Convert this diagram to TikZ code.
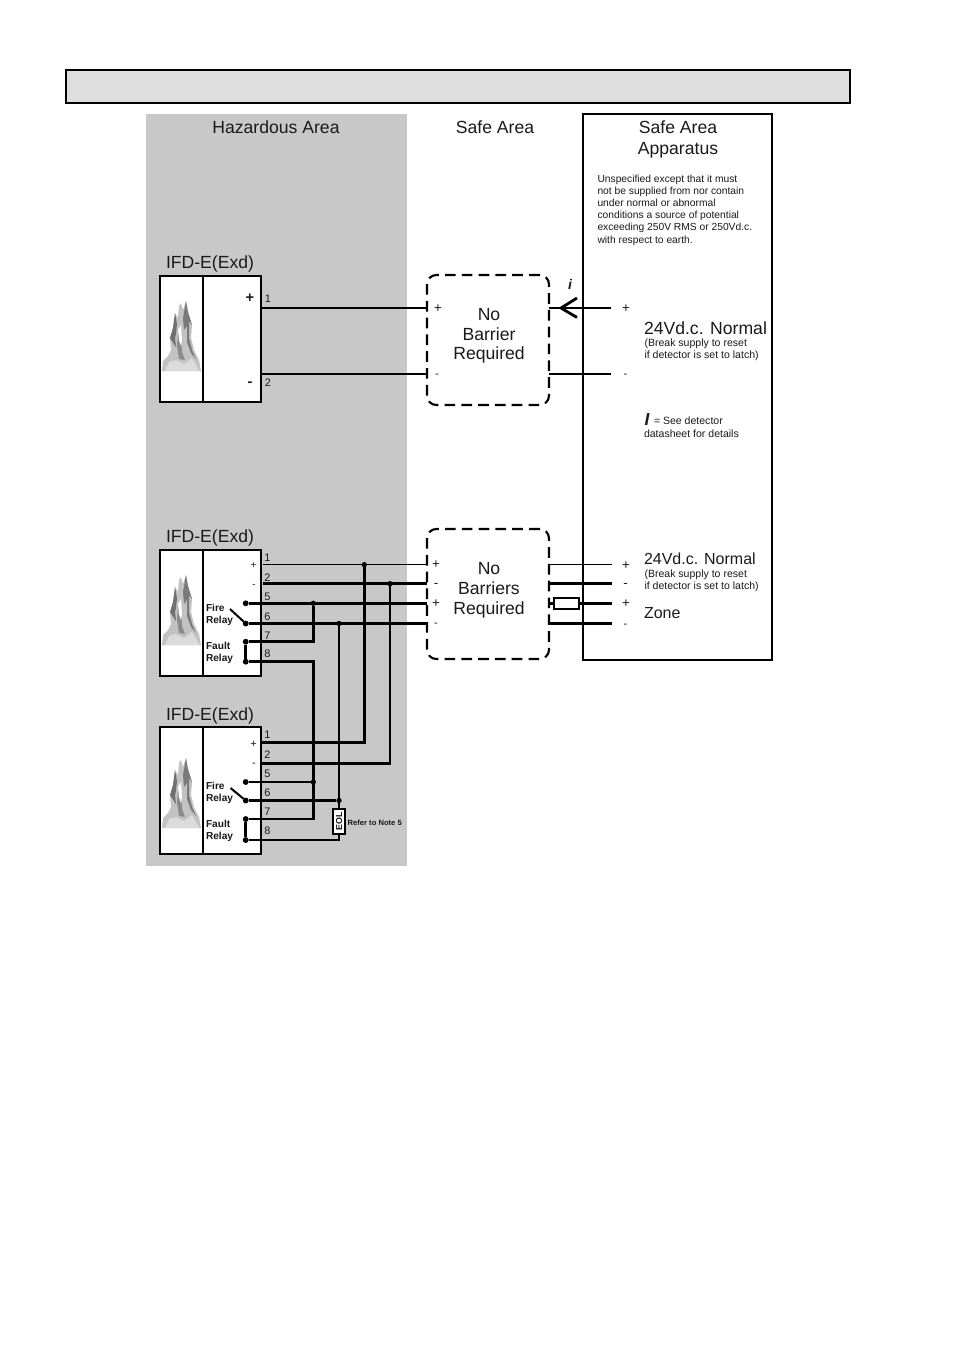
\documentclass[tikz,border=0pt]{standalone}
\usepackage{fontspec}
\setmainfont{Liberation Sans}
\newcommand{\fbig}{\fontsize{13.2}{14}\selectfont}
\newcommand{\fmid}{\fontsize{12}{13}\selectfont}
\newcommand{\fsmall}{\fontsize{7.9}{9}\selectfont}
\newcommand{\fnum}{\fontsize{8.2}{9}\selectfont}
\newcommand{\frel}{\fontsize{7.6}{9}\selectfont\bfseries}
\definecolor{hazgrey}{HTML}{C8C8C8}
\definecolor{headgrey}{HTML}{DEDEDE}
\definecolor{inkc}{HTML}{1A1A1A}
\tikzset{
  x=0.75pt,y=-0.75pt,
  every node/.style={outer sep=0pt},
  lab/.style={inner sep=0pt,text=inkc,yshift=-0.7pt,execute at begin node={\vphantom{(Ay}}},
  big/.style={lab,font=\fbig,yshift=-0.7pt},
  mid/.style={lab,font=\fmid,anchor=west},
  small/.style={lab,font=\fsmall,anchor=west},
  num/.style={lab,font=\fnum},
  rel/.style={lab,font=\frel,anchor=west},
  sign/.style={lab,font=\fnum},
  frame/.style={draw=black,line width=1.6pt},
  wire/.style={draw=black,line width=2.1pt},
  thinwire/.style={draw=black,line width=0.9pt},
  dashbox/.style={draw=black,line width=1.6pt,rounded corners=7pt,dash pattern=on 8pt off 4.6pt},
  dot/.style={circle,fill=black,inner sep=0pt,minimum size=4.4pt},
  jdot/.style={circle,fill=black,inner sep=0pt,minimum size=4pt},
}
\newcommand{\flameat}[2]{%
\begin{scope}[shift={(#1,#2)}]
\fill[black!24] (0,71) -- (1,61) -- (6,56) -- (9,50) -- (8,38) -- (11,28) -- (13,13) -- (16,18) -- (17,6) -- (19,3) -- (21,10) -- (24,1) -- (26,12) -- (30,25) -- (29,38) -- (32,50) -- (37,60) -- (39,71) -- cycle;
\fill[black!56] (8,38) -- (11,28) -- (13,13) -- (15,24) -- (14,34) -- (13,38) -- (14,47) -- (10,41) -- cycle;
\fill[black!46] (15,46) -- (16,32) -- (19,38) -- (20,52) -- (23,60) -- (17,59) -- cycle;
\fill[black!52] (24,1) -- (26,12) -- (30,25) -- (27,21) -- (27,38) -- (30,50) -- (34,59) -- (29,53) -- (25,42) -- (25,26) -- (22,30) -- (21,18) -- cycle;
\fill[white] (16,30) -- (19,25) -- (20,40) -- (19,46) -- (17,40) -- cycle;
\fill[black!14] (3,71) -- (7,62) -- (14,60) -- (22,64) -- (30,58) -- (37,70) -- (37,71) -- cycle;
\end{scope}}
\begin{document}
\begin{tikzpicture}
\useasboundingbox[fill=white] (0,0) rectangle (954,1350);
% header and areas
\node[draw=black,line width=0.8pt,fill=headgrey,minimum width=784*0.75pt,minimum height=33*0.75pt,inner sep=0pt,anchor=north west] (header) at (66,70) {};
\draw[black,line width=1.4pt] (header.north east) -- (header.south east);
\node[fill=hazgrey,minimum width=261*0.75pt,minimum height=752*0.75pt,inner sep=0pt,anchor=north west] (haz) at (146,114) {};
\node[frame,fill=white,minimum width=189*0.75pt,minimum height=546*0.75pt,inner sep=0pt,anchor=north west] (app) at (583,114) {};
\node[big] (thaz) at (276,127) {Hazardous Area};
\node[big] (tsafe) at (495,127) {Safe Area};
\node[big] (tapp1) at (678,127) {Safe Area};
\node[big] (tapp2) at (678,148) {Apparatus};
\foreach \n/\yy/\t in {a/179/Unspecified except that it must,b/190.5/not be supplied from nor contain,c/202.5/under normal or abnormal,d/214.5/conditions a source of potential,e/227/exceeding 250V RMS or 250Vd.c.,f/240/with respect to earth.}
  \node[small,font=\fontsize{7.7}{9}\selectfont] (un\n) at (597.5,\yy) {\t};
% detector boxes
\node[frame,fill=white,minimum width=101*0.75pt,minimum height=126*0.75pt,inner sep=0pt,anchor=north west] (d1) at (160,276) {};
\node[frame,fill=white,minimum width=101*0.75pt,minimum height=126*0.75pt,inner sep=0pt,anchor=north west] (d2) at (160,550) {};
\node[frame,fill=white,minimum width=101*0.75pt,minimum height=127*0.75pt,inner sep=0pt,anchor=north west] (d3) at (160,727) {};
\draw[black,line width=1.2pt] (d1.north west)++(43,0) -- ++(0,126);
\draw[black,line width=1.2pt] (d2.north west)++(43,0) -- ++(0,126);
\draw[black,line width=1.2pt] (d3.north west)++(43,0) -- ++(0,127);
\flameat{162}{300}
\flameat{162}{574}
\flameat{162}{757}
\node[big] (n1) at (210,262) {IFD-E(Exd)};
\node[big] (n2) at (210,536) {IFD-E(Exd)};
\node[big] (n3) at (210,714) {IFD-E(Exd)};
% barriers
\node[dashbox,minimum width=122*0.75pt,minimum height=130*0.75pt,inner sep=0pt,anchor=north west] (b1) at (427,275) {};
\node[dashbox,minimum width=122*0.75pt,minimum height=130*0.75pt,inner sep=0pt,anchor=north west] (b2) at (427,529) {};
\node[big] (b1a) at (489,314) {No};
\node[big] (b1b) at (489,334) {Barrier};
\node[big] (b1c) at (489,353) {Required};
\node[big] (b2a) at (489,568) {No};
\node[big] (b2b) at (489,588) {Barriers};
\node[big] (b2c) at (489,608) {Required};
% anchor points: left ends, barrier sides, apparatus ends
\foreach \n/\yy in {p/308,m/374}{
  \coordinate (d1\n) at (261,\yy); \coordinate (b1l\n) at (427,\yy);
  \coordinate (b1r\n) at (549,\yy); \coordinate (a1\n) at (611,\yy);}
\foreach \n/\yy in {a/564.7,b/583.7,c/603.3,d/623.5}{
  \coordinate (l\n) at (427,\yy); \coordinate (r\n) at (549,\yy); \coordinate (e\n) at (612,\yy);}
\draw[wire] (d1p) -- (b1lp);
\draw[wire] (d1m) -- (b1lm);
\draw[wire] (b1rp) -- (a1p);
\draw[wire] (b1rm) -- (a1m);
\coordinate (tip) at (561,308);
\coordinate (arm1) at (577,298);
\coordinate (arm2) at (577,317.5);
\draw[wire] (arm1) -- (tip) -- (arm2);
% detector 2 terminals
\coordinate (s1) at (263,564.7);
\coordinate (s2) at (263,583.7);
\node[dot] (t5) at (245.7,603.3) {};
\node[dot] (t6) at (245.7,623.5) {};
\node[dot] (t7) at (245.7,641.7) {};
\node[dot] (t8) at (245.7,661.7) {};
% detector 3 terminals
\coordinate (u1) at (261,742.7);
\coordinate (u2) at (261,763.3);
\node[dot] (v5) at (245.7,782) {};
\node[dot] (v6) at (245.7,800.5) {};
\node[dot] (v7) at (245.7,819) {};
\node[dot] (v8) at (245.7,840) {};
% junctions
\node[jdot] (j1) at (364.3,564.7) {};
\node[jdot] (j2) at (390,583.7) {};
\node[jdot] (j5) at (313.3,603.3) {};
\node[jdot] (j6) at (339,623.5) {};
\node[jdot] (k5) at (313.3,782) {};
\node[jdot] (k6) at (339,800.5) {};
\coordinate (c7) at (313.3,641.7);
\coordinate (c8) at (313.3,661.7);
\coordinate (m7) at (313.3,819);
\coordinate (k1) at (364.3,742.7);
\coordinate (k2) at (390,763.3);
\coordinate (m8) at (339,840);
% horizontal wires
\draw[thinwire] (s1) -- (la);
\draw[wire] (s2) -- (lb);
\draw[wire] (t5) -- (lc);
\draw[wire] (t6) -- (ld);
\draw[wire] (t7) -- (c7) -- (j5);
\draw[wire] (t8) -- (c8) -- (m7) -- (v7);
\draw[wire] (t7) -- (t8);
\draw[wire] (v7) -- (v8);
\draw[wire] (j1) -- (k1) -- (u1);
\draw[wire] (j2) -- (k2) -- (u2);
\draw[wire] (v5) -- (k5);
\draw[wire] (v6) -- (k6);
\draw[wire] (j6) -- (k6);
% EOL
\node[draw=black,line width=1.4pt,fill=white,minimum width=12*0.75pt,minimum height=25*0.75pt,inner sep=0pt,anchor=center] (eol) at (339,821.5) {};
\node[inner sep=0pt,text=inkc,font=\fontsize{6.6}{7}\selectfont\bfseries,rotate=90] (eoltxt) at (339,821.5) {EOL};
\draw[wire] (k6) -- (eol.north);
\draw[wire] (eol.south) -- (m8) -- (v8);
\node[lab,font=\fontsize{5.7}{7}\selectfont\bfseries,anchor=west] (note) at (347.7,823) {Refer to Note 5};
% relay switches
\coordinate (sw1) at (230,609);
\coordinate (sw2) at (230.5,788);
\draw[black,line width=1.5pt] (sw1) -- (t6);
\draw[black,line width=1.5pt] (sw2) -- (v6);
% right of barrier 2
\draw[thinwire] (ra) -- (ea);
\draw[wire] (rb) -- (eb);
\node[draw=black,line width=1.2pt,fill=white,minimum width=25*0.75pt,minimum height=11*0.75pt,inner sep=0pt] (res) at (566.7,603.3) {};
\draw[wire] (rc) -- (res.west);
\draw[wire] (res.east) -- (ec);
\draw[wire] (rd) -- (ed);
% terminal labels
\node[lab,font=\fontsize{11}{12}\selectfont\bfseries] (dp) at (250,297.5) {+};
\node[lab,font=\fontsize{11}{12}\selectfont\bfseries] (dm) at (250,382) {-};
\node[num] (n11) at (268,299) {1};
\node[num] (n12) at (268,382.5) {2};
\foreach \n/\yy/\t in {a/558/1,b/578/2,c/597/5,d/617/6,e/636/7,f/654/8}
  \node[num] (x\n) at (267.5,\yy) {\t};
\foreach \n/\yy/\t in {a/735/1,b/755/2,c/774/5,d/793/6,e/812/7,f/831/8}
  \node[num] (y\n) at (267.5,\yy) {\t};
\node[sign,font=\fontsize{7.5}{9}\selectfont] (xp) at (253.5,565) {+};
\node[sign,font=\fontsize{7.5}{9}\selectfont] (xm) at (254,584) {-};
\node[sign] (yp) at (253.5,744) {+};
\node[sign] (ym) at (254,763) {-};
\node[rel] (f1a) at (206,608) {Fire};
\node[rel] (f1b) at (206,620) {Relay};
\node[rel] (f2a) at (206,646) {Fault};
\node[rel] (f2b) at (206,658) {Relay};
\node[rel] (f3a) at (206,786) {Fire};
\node[rel] (f3b) at (206,798) {Relay};
\node[rel] (f4a) at (206,824) {Fault};
\node[rel] (f4b) at (206,836) {Relay};
% barrier signs
\node[sign,font=\fontsize{10}{11}\selectfont] (bp1) at (438,308) {+};
\node[sign] (bm1) at (437,374) {-};
\node[sign,font=\fontsize{10}{11}\selectfont] (bs1) at (436,564.5) {+};
\node[sign,font=\fontsize{10}{11}\selectfont] (bs2) at (436,583.5) {-};
\node[sign,font=\fontsize{10}{11}\selectfont] (bs3) at (436,603) {+};
\node[sign] (bs4) at (436,623) {-};
\node[lab,font=\fontsize{10.5}{11}\selectfont\bfseries\itshape] (iota) at (570,285) {i};
% apparatus signs and labels
\node[sign,font=\fontsize{10}{11}\selectfont] (ap1) at (626,308) {+};
\node[sign] (am1) at (625.5,374) {-};
\node[sign,font=\fontsize{10}{11}\selectfont] (as1) at (626,565) {+};
\node[sign,font=\fontsize{10}{11}\selectfont] (as2) at (625.5,583.5) {-};
\node[sign,font=\fontsize{10}{11}\selectfont] (as3) at (626,603) {+};
\node[sign] (as4) at (625.5,624) {-};
\node[mid,font=\fbig,yshift=-0.7pt] (v1) at (644,328) {24Vd.c. Normal};
\node[small] (v1a) at (644.5,343) {(Break supply to reset};
\node[small] (v1b) at (644.5,355) {if detector is set to latch)};
\node[lab,font=\fontsize{13}{14}\selectfont\bfseries\itshape] (ibig) at (647,420) {I};
\node[small] (seea) at (654,420.5) {= See detector};
\node[small] (seeb) at (644,434) {datasheet for details};
\node[mid] (v2) at (644,559) {24Vd.c. Normal};
\node[small] (v2a) at (644.5,574) {(Break supply to reset};
\node[small] (v2b) at (644.5,586) {if detector is set to latch)};
\node[mid] (zone) at (644,613) {Zone};
\end{tikzpicture}
\end{document}
